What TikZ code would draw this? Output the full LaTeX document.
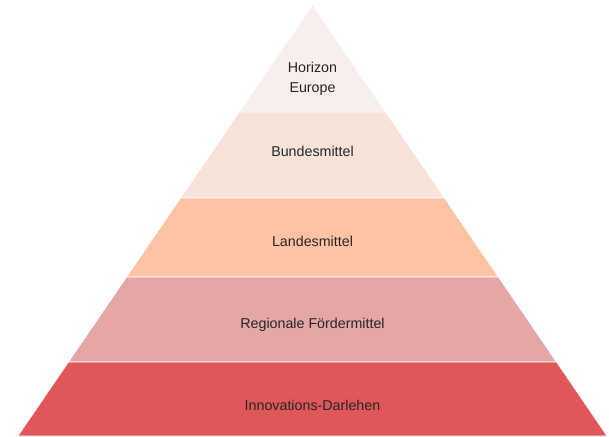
\documentclass[tikz,border=0pt]{standalone}
\usepackage{fontspec}
\setmainfont{Liberation Sans}
\usetikzlibrary{calc}

\definecolor{horizon}{HTML}{F8EEEB}
\definecolor{bund}{HTML}{F7E2D8}
\definecolor{land}{HTML}{FEC3A2}
\definecolor{region}{HTML}{E5A6A6}
\definecolor{darlehen}{HTML}{E0575A}

\begin{document}
\begin{tikzpicture}[
  x=0.75pt,y=-0.75pt,
  layer/.style={draw=white,line width=0.4pt,line join=round},
  label/.style={align=center,text=black!85,font=\fontsize{10.7}{15}\selectfont,inner sep=0pt}
]
  \useasboundingbox (0,0) rectangle (609,436);
  \coordinate (apex) at (312.5,5);
  \coordinate (bl) at (18,436);
  \coordinate (br) at (607,436);
  % pyramid layers, top to bottom
  \foreach \ta/\tb/\col in {0/0.2483/horizon, 0.2483/0.4478/bund,
      0.4478/0.6311/land, 0.6311/0.8283/region, 0.8283/1/darlehen}
    \fill[layer,fill=\col] ($(apex)!\ta!(bl)$) -- ($(apex)!\tb!(bl)$)
      -- ($(apex)!\tb!(br)$) -- ($(apex)!\ta!(br)$) -- cycle;
  \draw (312.5,79) node[label] (horizon) {Horizon\\Europe}
        (312.5,151) node[label] (bund) {Bundesmittel}
        (312.5,241) node[label] (land) {Landesmittel}
        (312.5,325) node[label] (region) {Regionale Fördermittel}
        (312.5,405) node[label] (darlehen) {Innovations-Darlehen};
\end{tikzpicture}
\end{document}
